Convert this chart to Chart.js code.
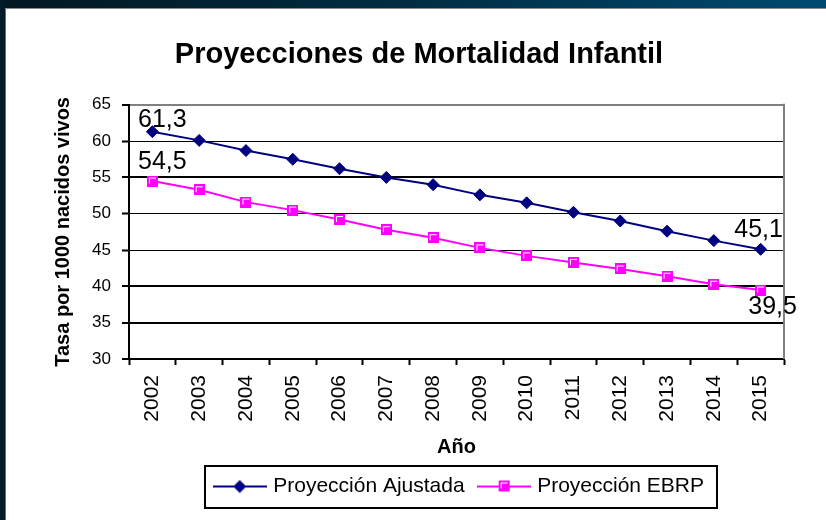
<!DOCTYPE html>
<html>
<head>
<meta charset="utf-8">
<script src="https://cdn.jsdelivr.net/npm/chart.js@4/dist/chart.umd.min.js"></script>
<style>
  html, body { margin: 0; padding: 0; background: #ffffff; overflow: hidden; width: 826px; height: 520px; }
  #c { display: block; width: 826px; height: 520px; }
</style>
</head>
<body>
<canvas id="c" width="826" height="520"></canvas>
<script>
// ---- data ----
const years = ['2002','2003','2004','2005','2006','2007','2008','2009','2010','2011','2012','2013','2014','2015'];
const ajustada = [61.3, 60.1, 58.7, 57.5, 56.2, 55.0, 54.0, 52.6, 51.5, 50.2, 49.0, 47.6, 46.3, 45.1];
const ebrp = [54.5, 53.3, 51.6, 50.5, 49.2, 47.8, 46.7, 45.3, 44.2, 43.3, 42.4, 41.4, 40.3, 39.5];
const seriesNames = ['Proyección Ajustada', 'Proyección EBRP'];
const yMin = 30, yMax = 65, yStep = 5;
const titleText = 'Proyecciones de Mortalidad Infantil';
const yTitle = 'Tasa por 1000 nacidos vivos';
const xTitle = 'Año';

const FONT = "'Liberation Sans', Arial, Helvetica, sans-serif";
const NAVY = '#000080';
const PINK = '#FF00FF';

function pinkSquare() {
  const c = document.createElement('canvas');
  c.width = 11; c.height = 11;
  const g = c.getContext('2d');
  g.fillStyle = PINK; g.fillRect(0, 0, 11, 11);
  g.fillStyle = '#ffffff';
  g.fillRect(2, 2, 7, 1);
  g.fillRect(2, 2, 1, 6);
  return c;
}
function legendImg(kind) {
  const c = document.createElement('canvas');
  c.width = 54; c.height = 14;
  const g = c.getContext('2d');
  g.strokeStyle = kind === 'a' ? NAVY : PINK;
  g.lineWidth = 2;
  g.beginPath(); g.moveTo(0, 7); g.lineTo(54, 7); g.stroke();
  if (kind === 'a') {
    g.fillStyle = NAVY;
    g.beginPath(); g.moveTo(27, 0.5); g.lineTo(33.5, 7); g.lineTo(27, 13.5); g.lineTo(20.5, 7); g.closePath(); g.fill();
  } else {
    g.drawImage(pinkSquare(), 22, 1);
  }
  return c;
}
const pinkMarker = pinkSquare();
const legendImgs = [legendImg('a'), legendImg('b')];

const valueLabels = [
  {ds: 0, idx: 0, dx: 10, dy: -12},
  {ds: 0, idx: 13, dx: -2, dy: -19},
  {ds: 1, idx: 0, dx: 10, dy: -19},
  {ds: 1, idx: 13, dx: 12, dy: 17}
];

const framePlugin = {
  id: 'frame',
  beforeDraw(chart) {
    const ctx = chart.ctx;
    const W = chart.canvas.width, H = chart.canvas.height;
    ctx.save();
    ctx.fillStyle = '#ffffff';
    ctx.fillRect(0, 0, W, H);
    const gr = ctx.createLinearGradient(0, 0, W, 0);
    gr.addColorStop(0, '#021822');
    gr.addColorStop(0.45, '#012b40');
    gr.addColorStop(1, '#004a70');
    ctx.fillStyle = gr;
    ctx.fillRect(0, 0, W, 8);
    ctx.fillStyle = '#8a8a8a';
    ctx.fillRect(5, 8, W - 5, 1);
    ctx.fillStyle = '#011b28';
    ctx.fillRect(0, 0, 5, H);
    ctx.fillStyle = '#6a6a6a';
    ctx.fillRect(5, 9, 1, H - 9);
    ctx.restore();
  },
  afterLayout(chart) {
    const t = chart.titleBlock;
    if (t) {
      const d = 419 - (t.left + t.right) / 2;
      t.left += d; t.right += d;
    }
    const lg = chart.legend;
    if (lg && lg.lineWidths) {
      const pad = lg.options.labels.padding;
      const start = (lg.left + pad + lg.right - lg.lineWidths[0]) / 2;
      const d = 216.7 - start;
      lg.left += d; lg.right += d;
    }
  },
  beforeDatasetsDraw(chart) {
    const ctx = chart.ctx, a = chart.chartArea;
    ctx.save();
    ctx.strokeStyle = '#808080';
    ctx.lineWidth = 2;
    ctx.beginPath();
    ctx.moveTo(a.right, a.top - 1);
    ctx.lineTo(a.right, a.bottom);
    ctx.stroke();
    ctx.restore();
  },
  afterDraw(chart) {
    const ctx = chart.ctx;
    ctx.save();
    ctx.font = '25px ' + FONT;
    ctx.fillStyle = '#000000';
    ctx.textAlign = 'center';
    ctx.textBaseline = 'middle';
    valueLabels.forEach(l => {
      const p = chart.getDatasetMeta(l.ds).data[l.idx];
      const v = chart.data.datasets[l.ds].data[l.idx];
      ctx.fillText(v.toFixed(1).replace('.', ','), p.x + l.dx, p.y + l.dy);
    });
    const lg = chart.legend;
    const hb = lg.legendHitBoxes;
    if (hb && hb.length) {
      const first = hb[0], last = hb[hb.length - 1];
      const cy = first.top + first.height / 2;
      const x0 = first.left - 12;
      const x1 = last.left + last.width + 13;
      ctx.strokeStyle = '#000000';
      ctx.lineWidth = 2;
      ctx.strokeRect(Math.round(x0), Math.round(cy - 20.5), Math.round(x1 - x0), 42);
    }
    ctx.restore();
  }
};

const gridColorY = c => (c.tick && c.tick.value === yMax) ? '#808080' : '#000000';
const gridWidthY = c => {
  const v = c.tick ? c.tick.value : 0;
  return (v === yMax || v === 55 || v === 40 || v === 35 || v === yMin) ? 2 : 1;
};

new Chart(document.getElementById('c'), {
  type: 'line',
  data: {
    labels: years,
    datasets: [
      {
        label: seriesNames[0],
        data: ajustada,
        borderColor: NAVY,
        backgroundColor: NAVY,
        borderWidth: 2,
        pointStyle: 'rectRot',
        pointRadius: 6,
        pointBorderWidth: 1,
        pointBackgroundColor: NAVY,
        pointBorderColor: NAVY,
        tension: 0,
        fill: false
      },
      {
        label: seriesNames[1],
        data: ebrp,
        borderColor: PINK,
        backgroundColor: PINK,
        borderWidth: 2,
        pointStyle: pinkMarker,
        pointRadius: 6,
        tension: 0,
        fill: false
      }
    ]
  },
  options: {
    responsive: false,
    animation: false,
    events: [],
    layout: { padding: { left: 6, right: 42, top: 10, bottom: 13 } },
    font: { family: FONT },
    color: '#000000',
    plugins: {
      tooltip: { enabled: false },
      title: {
        display: true,
        text: titleText,
        color: '#000000',
        font: { family: FONT, size: 29, weight: 'bold', lineHeight: 1.2 },
        padding: { top: 28, bottom: 32 }
      },
      legend: {
        display: true,
        position: 'bottom',
        labels: {
          color: '#000000',
          font: { family: FONT, size: 21 },
          usePointStyle: true,
          pointStyleWidth: 46,
          padding: 16,
          generateLabels(chart) {
            const items = Chart.defaults.plugins.legend.labels.generateLabels(chart);
            items.forEach((it, i) => { it.pointStyle = legendImgs[i]; });
            return items;
          }
        }
      }
    },
    scales: {
      x: {
        type: 'category',
        offset: true,
        border: { display: true, color: '#000000', width: 2 },
        grid: {
          display: true,
          offset: true,
          drawOnChartArea: false,
          drawTicks: true,
          tickLength: 6,
          color: '#000000',
          tickColor: '#000000',
          tickWidth: 2
        },
        ticks: {
          autoSkip: false,
          minRotation: 90,
          maxRotation: 90,
          padding: 10,
          color: '#000000',
          font: { family: FONT, size: 21 }
        },
        title: {
          display: true,
          text: xTitle,
          color: '#000000',
          font: { family: FONT, size: 20, weight: 'bold', lineHeight: 1.2 },
          padding: { top: 0, bottom: 1 }
        },
        afterFit(s) { s.height = 101; }
      },
      y: {
        type: 'linear',
        min: yMin,
        max: yMax,
        border: { display: true, color: '#000000', width: 2 },
        grid: {
          display: true,
          drawOnChartArea: true,
          drawTicks: true,
          tickLength: 7,
          color: gridColorY,
          lineWidth: gridWidthY,
          tickColor: '#000000',
          tickWidth: 2
        },
        ticks: {
          stepSize: yStep,
          padding: 11,
          color: '#000000',
          font: { family: FONT, size: 17 }
        },
        title: {
          display: true,
          text: yTitle,
          color: '#000000',
          font: { family: FONT, size: 20, weight: 'bold', lineHeight: 1.2 },
          padding: { top: 45, bottom: 0 }
        },
        afterFit(s) { s.width = 123; }
      }
    }
  },
  plugins: [framePlugin]
});
</script>
</body>
</html>
